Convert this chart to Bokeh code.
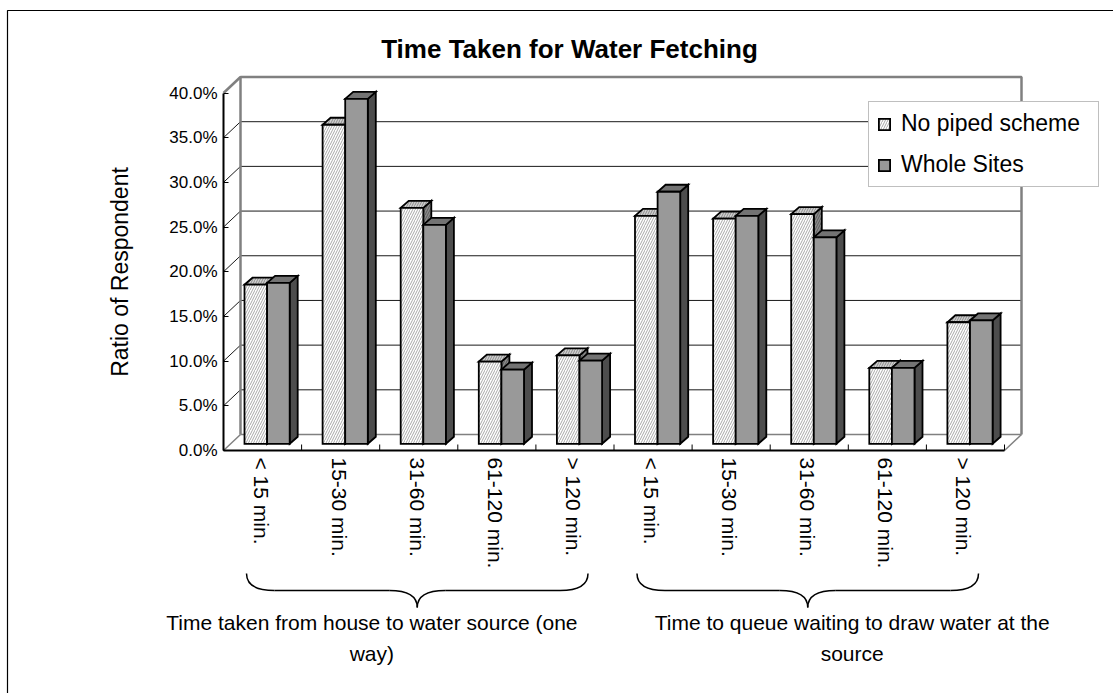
import numpy as np
from bokeh.plotting import figure
from bokeh.models import (Range1d, FixedTicker, PrintfTickFormatter, Legend,
                          LegendItem, ColumnDataSource)
from bokeh.core.properties import value
from bokeh.embed import file_html
from bokeh.resources import INLINE

# ---------------------------------------------------------------- data
title_text = "Time Taken for Water Fetching"
y_title = "Ratio of Respondent"
series_names = ["No piped scheme", "Whole Sites"]
time_bins = ["< 15 min.", "15-30 min.", "31-60 min.", "61-120 min.", "> 120 min."]
categories = time_bins + time_bins
group_labels = ["Time taken from house to water source (one\nway)",
                "Time to queue waiting to draw water at the\nsource"]
no_piped_scheme = [17.8, 35.7, 26.4, 9.2, 9.9, 25.5, 25.2, 25.7, 8.5, 13.6]
whole_sites = [18.0, 38.6, 24.5, 8.3, 9.3, 28.2, 25.5, 23.1, 8.5, 13.8]
y_ticks = [0, 5, 10, 15, 20, 25, 30, 35, 40]

# ---------------------------------------------------------------- geometry
W, H = 1113, 693
ORIGIN_X, ORIGIN_Y = 223, 450   # front-left floor corner on screen
SX = 78.1                        # px per category slot
SY = 8.9375                      # px per percentage point
FONT = "Liberation Sans"


def dx(px):
    return px / SX


def dy(px):
    return px / SY


def ax(px):
    return (px - ORIGIN_X) / SX


def ay(py):
    return (ORIGIN_Y - py) / SY


n = len(categories)
idx = np.arange(n, dtype=float)
y_max = max(y_ticks)

WALL_DX, WALL_DY = dx(17), dy(16)     # depth of the 3-D box
BAR_X0, BAR_Y0 = dx(21), dy(6.7)      # bar front face inside a slot
BAR_W = dx(22.6)
DEPTH_X, DEPTH_Y = dx(8), dy(7)       # depth of each bar

p = figure(width=W, height=H, output_backend="svg", toolbar_location=None,
           x_range=Range1d(ax(0), ax(W)), y_range=Range1d(ay(H), ay(0)),
           min_border=0, min_border_left=0, min_border_right=0,
           min_border_top=0, min_border_bottom=0)
p.outline_line_color = None
p.background_fill_color = "white"
p.border_fill_color = "white"
p.xaxis.visible = False
p.xgrid.visible = False
p.ygrid.visible = False

# ---------------------------------------------------------------- y axis
yax = p.yaxis[0]
yax.fixed_location = 0
yax.bounds = (0, y_max)
yax.ticker = FixedTicker(ticks=y_ticks)
yax.formatter = PrintfTickFormatter(format="%.1f%%")
yax.major_tick_in = 5
yax.major_tick_out = 0
yax.major_tick_line_color = "black"
yax.minor_tick_line_color = None
yax.axis_line_color = "black"
yax.axis_line_width = 2
yax.major_label_text_font = FONT
yax.major_label_text_font_size = "17px"
yax.major_label_text_color = "black"
yax.major_label_standoff = 6
yax.axis_label = y_title
yax.axis_label_text_font = FONT
yax.axis_label_text_font_size = "23px"
yax.axis_label_text_font_style = "normal"
yax.axis_label_text_color = "black"
yax.axis_label_standoff = 33

# ---------------------------------------------------------------- chart border
p.line(x=[ax(7), ax(7), ax(W + 5)], y=[ay(H + 5), ay(10), ay(10)],
       line_color="black", line_width=1.2)

# ---------------------------------------------------------------- walls
inner = np.array([t for t in y_ticks if 0 < t < y_max], dtype=float)
# back-wall gridlines
p.segment(x0=np.full(len(inner), WALL_DX), y0=inner + WALL_DY,
          x1=np.full(len(inner), n + WALL_DX), y1=inner + WALL_DY,
          line_color="#1a1a1a", line_width=1)
# side-wall gridlines
p.segment(x0=np.zeros(len(inner)), y0=inner,
          x1=np.full(len(inner), WALL_DX), y1=inner + WALL_DY,
          line_color="#1a1a1a", line_width=1)
# floor edges
p.segment(x0=[0, n, WALL_DX], y0=[0, 0, WALL_DY],
          x1=[WALL_DX, n + WALL_DX, n + WALL_DX], y1=[WALL_DY, WALL_DY, WALL_DY],
          line_color="#808080", line_width=1.5)
# back wall outline and top of side wall
p.line(x=[WALL_DX, WALL_DX, n + WALL_DX, n + WALL_DX],
       y=[WALL_DY, y_max + WALL_DY, y_max + WALL_DY, WALL_DY],
       line_color="#808080", line_width=2.5)
p.line(x=[0, WALL_DX], y=[y_max, y_max + WALL_DY],
       line_color="#808080", line_width=2.5)


# ---------------------------------------------------------------- bars
def bar_source(values, slot):
    v = np.asarray(values, dtype=float)
    left = idx + BAR_X0 + slot * BAR_W
    right = left + BAR_W
    bottom = np.full(n, BAR_Y0)
    top = bottom + v
    return ColumnDataSource(dict(
        left=left, right=right, bottom=bottom, top=top,
        top_xs=[[l, r, r + DEPTH_X, l + DEPTH_X] for l, r in zip(left, right)],
        top_ys=[[t, t, t + DEPTH_Y, t + DEPTH_Y] for t in top],
        side_xs=[[r, r + DEPTH_X, r + DEPTH_X, r] for r in right],
        side_ys=[[b, b + DEPTH_Y, t + DEPTH_Y, t] for b, t in zip(bottom, top)],
    ))


styles = [
    dict(front=dict(fill_color="white", hatch_pattern="/", hatch_color="#a8a8a8",
                    hatch_scale=5, hatch_weight=1),
         top=dict(fill_color="#cfcfcf", hatch_pattern="/", hatch_color="#8c8c8c",
                  hatch_scale=5, hatch_weight=1),
         side=dict(fill_color="#8c8c8c", hatch_pattern="/", hatch_color="#5a5a5a",
                   hatch_scale=5, hatch_weight=1)),
    dict(front=dict(fill_color="#999999"),
         top=dict(fill_color="#737373"),
         side=dict(fill_color="#4d4d4d")),
]

front_renderers = []
for slot, vals in enumerate([no_piped_scheme, whole_sites]):
    src = bar_source(vals, slot)
    st = styles[slot]
    p.patches(xs="side_xs", ys="side_ys", source=src, line_color="black",
              line_width=1.8, line_join="miter", **st["side"])
    p.patches(xs="top_xs", ys="top_ys", source=src, line_color="black",
              line_width=1.8, line_join="miter", **st["top"])
    r = p.quad(left="left", right="right", bottom="bottom", top="top", source=src,
               line_color="black", line_width=1.8, line_join="miter", **st["front"])
    front_renderers.append(r)

# ---------------------------------------------------------------- floor front edge and ticks
p.segment(x0=[0], y0=[0], x1=[n], y1=[0], line_color="black", line_width=2)
bounds = np.arange(n + 1, dtype=float)
p.segment(x0=bounds, y0=np.zeros(n + 1), x1=bounds, y1=np.full(n + 1, dy(6)),
          line_color="black", line_width=1)

# ---------------------------------------------------------------- category labels
p.text(x=idx + 0.5 - dx(1.5), y=np.full(n, -dy(7)), text=categories, angle=-np.pi / 2,
       text_align="left", text_baseline="middle", text_font=value(FONT),
       text_font_size="21px", text_color="black")

# ---------------------------------------------------------------- group braces
g_start = np.array([0.0, 5.0])
g_end = g_start + len(time_bins)
bl = g_start + dx(23)
br = g_end - dx(26)
bm = (bl + br) / 2
B_TOP, B_MID, B_TIP = ay(573), ay(590), ay(607)
q = dx(28)
brace = dict(line_color="black", line_width=1.5)
p.quadratic(x0=bl, y0=B_TOP, x1=bl + q, y1=B_MID, cx=bl, cy=B_MID, **brace)
p.quadratic(x0=br, y0=B_TOP, x1=br - q, y1=B_MID, cx=br, cy=B_MID, **brace)
p.quadratic(x0=bm - q, y0=B_MID, x1=bm, y1=B_TIP, cx=bm, cy=B_MID, **brace)
p.quadratic(x0=bm + q, y0=B_MID, x1=bm, y1=B_TIP, cx=bm, cy=B_MID, **brace)
p.segment(x0=np.concatenate([bl + q, bm + q]), y0=np.full(4, B_MID),
          x1=np.concatenate([bm - q, br - q]), y1=np.full(4, B_MID), **brace)

label_shift = np.array([-0.6, 0.55])
p.text(x=(g_start + g_end) / 2 + label_shift, y=np.full(2, ay(637.5)),
       text=group_labels, text_align="center", text_baseline="middle",
       text_line_height=1.32, text_font=value(FONT), text_font_size="21px",
       text_color="black")

# ---------------------------------------------------------------- title
p.text(x=[ax(569)], y=[ay(48)], text=[title_text], text_align="center",
       text_baseline="middle", text_font=value(FONT), text_font_size="26px",
       text_font_style="bold", text_color="black")

# ---------------------------------------------------------------- legend
legend = Legend(items=[LegendItem(label=name, renderers=[r])
                       for name, r in zip(series_names, front_renderers)],
                location=(868, H - 187))
legend.label_text_font = FONT
legend.label_text_font_size = "23px"
legend.label_text_color = "black"
legend.glyph_width = 14
legend.glyph_height = 14
legend.padding = 8
legend.spacing = 14
legend.label_standoff = 10
legend.label_width = 189
legend.label_height = 27
legend.margin = 0
legend.border_line_color = "#808080"
legend.border_line_width = 1.5
legend.background_fill_color = "white"
legend.background_fill_alpha = 1.0
p.add_layout(legend)

open("out.html", "w").write(file_html(p, INLINE))
